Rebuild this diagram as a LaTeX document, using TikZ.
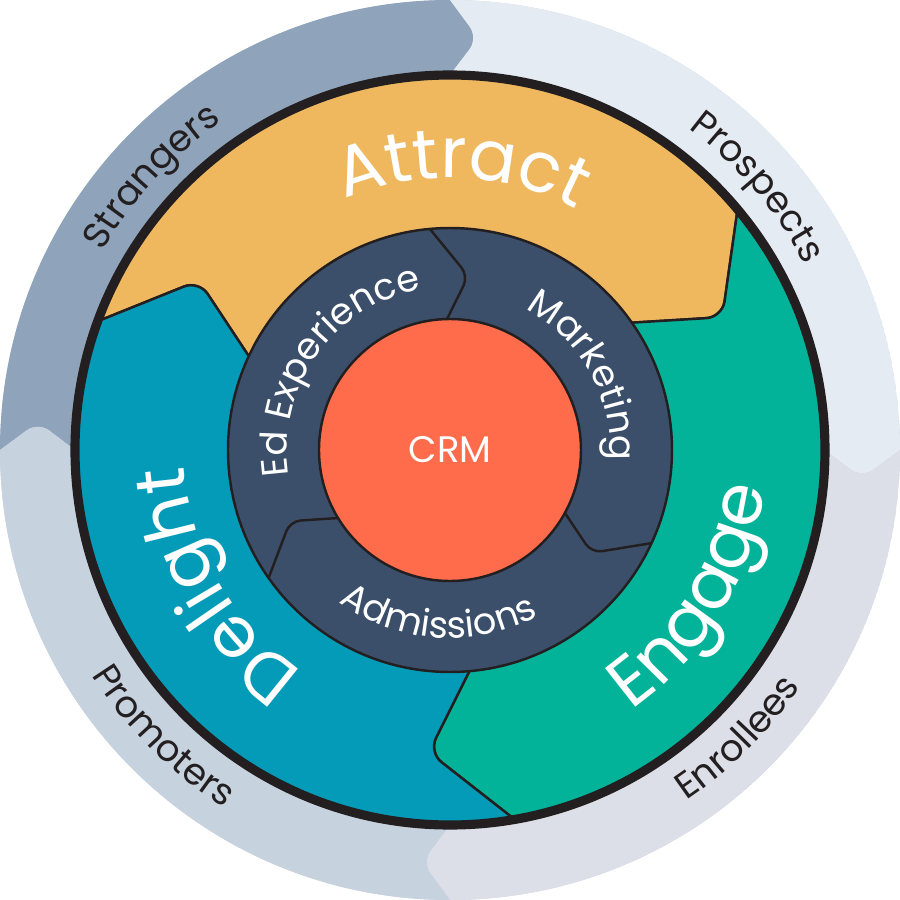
\documentclass[tikz,border=0pt]{standalone}
\usepackage{fontspec}
\setmainfont{Poppins}
\usepackage{tikz}
\usetikzlibrary{calc,decorations.text}
\definecolor{strangers}{HTML}{8FA3BA}
\definecolor{prospects}{HTML}{E5EBF3}
\definecolor{enrollees}{HTML}{DCDFE8}
\definecolor{promoters}{HTML}{C7D2DF}
\definecolor{attract}{HTML}{EFB85F}
\definecolor{engage}{HTML}{03B399}
\definecolor{delight}{HTML}{049BB8}
\definecolor{hub}{HTML}{3B4F6A}
\definecolor{crm}{HTML}{FE6C4C}
\definecolor{ink}{HTML}{231F20}
\newcommand{\smallfont}{\fontsize{10.5}{12}\selectfont}
\newcommand{\bigfont}{\fontsize{20}{24}\selectfont}

\begin{document}
\begin{tikzpicture}[thick]
  \tikzstyle{stage} = [draw=ink, line width=0.7pt, rounded corners=4.5pt]
  \tikzstyle{edge} = [draw=ink, line width=0.7pt, rounded corners=3pt]
  \tikzset{curved/.style={decorate, decoration={text along path, text align=center, text={#1}}}}
  \useasboundingbox (-4.5,-4.5) rectangle (4.5,4.5);

  % outer ring
  \begin{scope}
    \clip (0,0) circle (4.5);
    \fill[promoters] (0,0) circle (4.5);
    \foreach \a/\col in {90/strangers, 0/prospects, -90/enrollees, 180/promoters}
      \fill[\col, rounded corners=4pt]
        ($(\a+86.1:4.13)!2!(\a+90:4.5)$) -- (\a+86.1:4.13) -- ($(\a+86.1:4.13)!2!(\a+90:3.75)$) -- (0,0)
        -- ($(\a-3.9:4.13)!2!(\a:3.75)$) -- (\a-3.9:4.13) -- ($(\a-3.9:4.13)!2!(\a:4.5)$)
        -- (\a:7) arc[start angle=\a, end angle=\a+90, radius=7] -- cycle;
  \end{scope}

  % stages
  \begin{scope}
    \clip (0,0) circle (3.75);
    \foreach \a/\col in {0/attract, -120/engage, 120/delight}
      \path[stage, fill=\col]
        ($(\a+146:3.03)!1.3!(\a+159.5:3.72)$) -- (\a+146:3.03) -- ($(\a+146:3.03)!1.3!(\a+155:2.22)$) -- (0,0)
        -- ($(\a+26:3.03)!1.3!(\a+35:2.22)$) -- (\a+26:3.03) -- ($(\a+26:3.03)!1.3!(\a+39.5:3.72)$)
        -- (\a+39.5:6) arc[start angle=\a+39.5, end angle=\a+159.5, radius=6] -- cycle;
  \end{scope}
  \draw[ink, line width=2.6pt] (0,0) circle (3.75);

  % hub
  \filldraw[fill=hub, draw=ink, line width=0.7pt] (0,0) circle (2.22);
  \foreach \a in {0,-120,120}
    \draw[edge] (\a+95.2:2.22) -- (\a+84:1.75) -- (\a+91.3:1.31);
  \node[circle, fill=crm, draw=ink, line width=0.7pt, minimum size=2.62cm, inner sep=0pt,
        font=\smallfont, text=white] (crm) at (0,0) {CRM};

  \path[curved={|\bigfont\color{white}|Attract}] (127.5:2.72) arc[start angle=127.5, end angle=47.5, radius=2.72];
  \path[curved={|\bigfont\color{white}|Delight}] (250:2.66) arc[start angle=250, end angle=170, radius=2.66];
  \path[curved={|\bigfont\color{white}|Engage}] (-71:3.17) arc[start angle=-71, end angle=9, radius=3.17];

  \path[curved={|\smallfont\color{white}|Ed Experience}] (204.5:1.63) arc[start angle=204.5, end angle=84.5, radius=1.63];
  \path[curved={|\smallfont\color{white}|Marketing}] (89:1.60) arc[start angle=89, end angle=-31, radius=1.60];
  \path[curved={|\smallfont\color{white}|Admissions}] (206:1.88) arc[start angle=206, end angle=326, radius=1.88];

  \path[curved={|\smallfont\color{ink}|Strangers}] (167.5:4.0) arc[start angle=167.5, end angle=107.5, radius=4.0];
  \path[curved={|\smallfont\color{ink}|Prospects}] (70.5:4.0) arc[start angle=70.5, end angle=10.5, radius=4.0];
  \path[curved={|\smallfont\color{ink}|Enrollees}] (-75:4.23) arc[start angle=-75, end angle=-15, radius=4.23];
  \path[curved={|\smallfont\color{ink}|Promoters}] (195:4.23) arc[start angle=195, end angle=255, radius=4.23];
\end{tikzpicture}
\end{document}
